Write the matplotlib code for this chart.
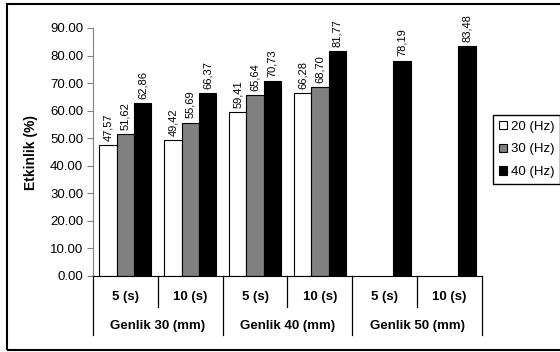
import numpy as np
import matplotlib.pyplot as plt
from matplotlib.patches import Rectangle

plt.rcParams['font.family'] = ['Liberation Sans', 'DejaVu Sans']

# etkinlik degerleri (%), her frekans icin
sureler = ['5 (s)', '10 (s)', '5 (s)', '10 (s)', '5 (s)', '10 (s)']
genlikler = ['Genlik 30 (mm)', 'Genlik 40 (mm)', 'Genlik 50 (mm)']
frekanslar = ['20 (Hz)', '30 (Hz)', '40 (Hz)']
hz20 = [47.57, 49.42, 59.41, 66.28, np.nan, np.nan]
hz30 = [51.62, 55.69, 65.64, 68.70, np.nan, np.nan]
hz40 = [62.86, 66.37, 70.73, 81.77, 78.19, 83.48]
renkler = ['white', '#808080', 'black']

fig = plt.figure(figsize=(5.6, 3.52), dpi=100)
ax = fig.add_axes([93/560, 76/352, 389/560, 248/352])

x = np.arange(len(sureler))
w = 0.267
for i, (seri, renk, ad) in enumerate(zip([hz20, hz30, hz40], renkler, frekanslar)):
    bars = ax.bar(x + (i - 1) * w, seri, w, color=renk, edgecolor='black',
                  linewidth=0.8, label=ad)
    for b, v in zip(bars, seri):
        if np.isnan(v):
            continue
        ax.annotate(f'{v:.2f}'.replace('.', ','), (b.get_x() + b.get_width() / 2, v),
                    xytext=(0, 3), textcoords='offset points', rotation=90,
                    ha='center', va='bottom', fontsize=8)

ax.set_xlim(-0.5, 5.5)
ax.set_ylim(0, 90)
ax.set_yticks(np.arange(0, 91, 10))
ax.yaxis.set_major_formatter(plt.FormatStrFormatter('%.2f'))
ax.tick_params(axis='y', labelsize=9.5, length=4, color='#808080', pad=3)
ax.set_xticks([])
for s in ['top', 'right']:
    ax.spines[s].set_visible(False)
ax.spines['left'].set_color('#808080')
ax.spines['bottom'].set_color('black')
ax.set_ylabel('Etkinlik (%)', fontsize=10, fontweight='bold', labelpad=9)

# iki seviyeli x ekseni
tr = ax.get_xaxis_transform()
for k, s in enumerate(sureler):
    ax.text(k, -0.085, s, transform=tr, ha='center', va='center',
            fontsize=9.5, fontweight='bold')
for k, g in enumerate(genlikler):
    ax.text(2 * k + 0.5, -0.202, g, transform=tr, ha='center', va='center',
            fontsize=9.5, fontweight='bold')
for k in range(7):
    alt = -0.238 if k % 2 == 0 else -0.125
    ax.plot([k - 0.5, k - 0.5], [0, alt], transform=tr, color='black',
            linewidth=0.9, clip_on=False)

ax.legend(loc='upper left', bbox_to_anchor=(493/560, 1 - 115/352),
          bbox_transform=fig.transFigure, borderaxespad=0, fontsize=9.5,
          handlelength=0.6, handleheight=0.6, handletextpad=0.3,
          fancybox=False, framealpha=1, edgecolor='black', borderpad=0.45,
          labelspacing=0.8)

# dis cerceve
fig.add_artist(Rectangle((7/560, 2/352), 1.1, 1 - 6/352, transform=fig.transFigure,
                         fill=False, edgecolor='black', linewidth=1.5, clip_on=False))

fig.savefig('out.png', dpi=100)
